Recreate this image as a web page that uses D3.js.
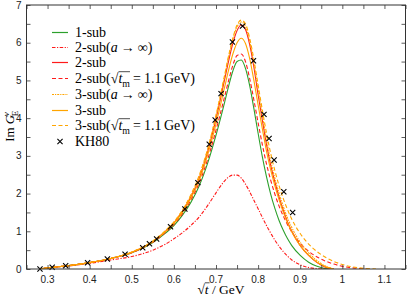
<!DOCTYPE html>
<html><head><meta charset="utf-8">
<script src="https://cdn.jsdelivr.net/npm/d3@7"></script>
<style>body{margin:0;background:#fff}svg{display:block}</style>
</head><body><svg id="c" width="407" height="301"></svg>
<script>
// ---- data ----
const tGrid = [0.28,0.30,0.35,0.40,0.45,0.50,0.55,0.58,0.60,0.62,0.64,0.66,0.68,0.70,0.72,0.73,0.74,0.75,0.76,0.77,0.78,0.79,0.80,0.81,0.82,0.83,0.84,0.85,0.86,0.87,0.88,0.90,0.92,0.94,0.96,0.98,1.00,1.02,1.04,1.06,1.08];
const sub1   = [0,0.03,0.09,0.17,0.28,0.43,0.70,0.95,1.15,1.42,1.76,2.20,2.80,3.55,4.40,4.85,5.25,5.50,5.54,5.32,4.86,4.25,3.60,2.98,2.44,1.98,1.60,1.28,1.02,0.80,0.62,0.36,0.18,0.07,0.01,0,null,null,null,null,null];
const sub2a  = [0,0.03,0.08,0.15,0.24,0.33,0.50,0.66,0.80,0.96,1.15,1.38,1.68,2.02,2.33,2.44,2.49,2.49,2.41,2.25,2.05,1.82,1.60,1.37,1.15,0.95,0.76,0.60,0.46,0.34,0.24,0.11,0.04,0.01,0,null,null,null,null,null,null];
const sub2   = [0,0.03,0.09,0.17,0.28,0.44,0.73,1.00,1.22,1.52,1.90,2.40,3.10,3.98,5.00,5.52,5.98,6.32,6.47,6.35,5.95,5.35,4.62,3.95,3.30,2.75,2.30,1.90,1.55,1.25,1.00,0.62,0.36,0.17,0.05,0,null,null,null,null,null];
const sub2tm = [0,0.03,0.09,0.17,0.28,0.43,0.71,0.97,1.18,1.46,1.82,2.28,2.90,3.68,4.55,5.00,5.40,5.66,5.70,5.50,5.05,4.48,3.88,3.30,2.78,2.35,1.98,1.66,1.40,1.17,0.98,0.68,0.47,0.32,0.21,0.13,0.07,0.035,0.015,0.004,null];
const sub3a  = [0,0.03,0.09,0.17,0.28,0.45,0.74,1.01,1.24,1.55,1.94,2.45,3.15,4.05,5.08,5.62,6.08,6.42,6.55,6.43,6.03,5.45,4.75,4.07,3.42,2.86,2.40,2.00,1.65,1.35,1.10,0.71,0.43,0.22,0.08,0,null,null,null,null,null];
const sub3   = [0,0.03,0.09,0.17,0.28,0.44,0.72,0.99,1.20,1.50,1.87,2.35,3.02,3.85,4.80,5.28,5.70,6.00,6.12,5.98,5.58,5.00,4.35,3.72,3.12,2.62,2.20,1.83,1.50,1.22,0.98,0.62,0.36,0.18,0.06,0,null,null,null,null,null];
const sub3tm = [0,0.03,0.09,0.17,0.28,0.45,0.74,1.02,1.25,1.56,1.96,2.48,3.18,4.08,5.12,5.66,6.12,6.47,6.60,6.50,6.12,5.55,4.88,4.22,3.60,3.06,2.60,2.20,1.86,1.57,1.32,0.94,0.66,0.46,0.31,0.20,0.12,0.065,0.03,0.01,0];
const khX = [0.282,0.311,0.343,0.395,0.442,0.484,0.526,0.542,0.559,0.592,0.626,0.657,0.684,0.698,0.712,0.739,0.763,0.789,0.814,0.826,0.838,0.861,0.882];
const khY = [0.00,0.045,0.088,0.167,0.265,0.39,0.565,0.67,0.795,1.12,1.59,2.29,3.31,3.95,4.65,6.02,6.44,5.52,4.10,3.46,2.89,2.05,1.50];
const xTicks = [0.3,0.4,0.5,0.6,0.7,0.8,0.9,1,1.1];
const yTicks = [0,1,2,3,4,5,6,7];

// ---- layout ----
const svg = d3.select("#c");
const L = 26.5, R = 405.5, T = 5, B = 269;
const x = d3.scaleLinear().domain([0.25,1.15]).range([L,R]);
const y = d3.scaleLinear().domain([0,7]).range([B,T]);
const GREEN = "#2ca02c", RED = "#ff1a1a", ORANGE = "#ffa500";
const serif = "'Liberation Serif','Times New Roman',serif";
const sans = "'Liberation Sans',Arial,sans-serif";

const series = [
  {name:"sub1", vals:sub1, color:GREEN, dash:null},
  {name:"sub2a", vals:sub2a, color:RED, dash:"3.5,1.5,1.2,1.5"},
  {name:"sub2", vals:sub2, color:RED, dash:null},
  {name:"sub2tm", vals:sub2tm, color:RED, dash:"4,2.5"},
  {name:"sub3a", vals:sub3a, color:ORANGE, dash:"2,1,1.2,1"},
  {name:"sub3", vals:sub3, color:ORANGE, dash:null},
  {name:"sub3tm", vals:sub3tm, color:ORANGE, dash:"4,2.5"}
];

svg.append("clipPath").attr("id","pc").append("rect")
  .attr("x",L).attr("y",T).attr("width",R-L).attr("height",B-T);

const line = d3.line().defined(d=>d[1]!==null).x(d=>x(d[0])).y(d=>y(d[1])).curve(d3.curveMonotoneX);
const plot = svg.append("g").attr("clip-path","url(#pc)");
series.forEach(s=>{
  plot.append("path").datum(tGrid.map((t,i)=>[t,s.vals[i]]))
    .attr("d",line).attr("fill","none").attr("stroke",s.color)
    .attr("stroke-width",1.1).attr("stroke-dasharray",s.dash);
});
// KH80 markers
const mk = 2.6;
svg.append("g").selectAll("path").data(khX.map((v,i)=>[v,khY[i]])).join("path")
  .attr("d",d=>{const cx=x(d[0]),cy=y(d[1]);return `M${cx-mk},${cy-mk}L${cx+mk},${cy+mk}M${cx-mk},${cy+mk}L${cx+mk},${cy-mk}`;})
  .attr("stroke","#000").attr("stroke-width",1.1).attr("fill","none");

// ---- axes ----
const AX = "#333";
const tl = 4;
const xt = d3.range(0.25,1.151,0.05);
const yt = d3.range(0,7.01,0.5);
const ax = svg.append("g");
ax.append("g").attr("transform",`translate(0,${B})`).call(d3.axisBottom(x).tickValues(xt).tickSizeInner(-tl).tickSizeOuter(0).tickFormat(""));
ax.append("g").attr("transform",`translate(0,${T})`).call(d3.axisTop(x).tickValues(xt).tickSizeInner(-tl).tickSizeOuter(0).tickFormat(""));
ax.append("g").attr("transform",`translate(${L},0)`).call(d3.axisLeft(y).tickValues(yt).tickSizeInner(-tl).tickSizeOuter(0).tickFormat(""));
ax.append("g").attr("transform",`translate(${R},0)`).call(d3.axisRight(y).tickValues(yt).tickSizeInner(-tl).tickSizeOuter(0).tickFormat(""));
ax.selectAll(".domain").remove();
ax.selectAll("line").attr("stroke",AX).attr("stroke-width",0.8);
svg.append("rect").attr("x",L).attr("y",T).attr("width",R-L).attr("height",B-T)
  .attr("fill","none").attr("stroke",AX).attr("stroke-width",1);

// tick labels
const tickLab = svg.append("g").attr("font-family",sans).attr("font-size",10).attr("fill","#222");
xTicks.forEach(d=>{
  tickLab.append("text").attr("x",x(d)).attr("y",B+13.5).attr("text-anchor","middle").text(String(d));
});
yTicks.forEach(d=>{
  tickLab.append("text").attr("x",L-5).attr("y",y(d)+3.6).attr("text-anchor","end").text(String(d));
});

// ---- rich text helper ----
function rich(g, x0, y0, segs, size){
  let cx = x0;
  const bars = [];
  segs.forEach(s=>{
    const fs = s.small ? size*0.7 : size;
    const dy = s.sub ? size*0.28 : (s.sup ? -size*0.42 : 0);
    const t = g.append("text").attr("x",cx+(s.dx||0)).attr("y",y0+dy)
      .attr("font-family",serif).attr("font-size",fs)
      .attr("font-style",s.it?"italic":"normal").attr("fill","#000")
      .style("white-space","pre").text(s.t);
    const w = t.node().getComputedTextLength();
    if(s.bar) bars.push([cx+(s.dx||0), cx+(s.dx||0)+w+(s.barExtra||0)]);
    cx += w + (s.dx||0) + (s.adv||0);
  });
  return {end:cx, bars};
}

// ---- legend ----
const legX1 = 52, legX2 = 68, legTX = 75;
const legRowsY = [32.5, 47.5, 62.5, 78.5, 94.5, 110.5, 125.5, 141.5];
const fsL = 14;
const legend = svg.append("g");
const sqrtSegs = [{t:"√"},{t:"t",it:true,bar:true},{t:"m",small:true,sub:true,bar:true,adv:3},{t:"=",adv:3},{t:"1.1",adv:2.5},{t:"GeV)"}];
const arrowSegs = [{t:"a",it:true,adv:3},{t:"→",adv:3},{t:"∞)"}];
const labels = [
  [{t:"1-sub"}],
  [{t:"2-sub("}].concat(arrowSegs),
  [{t:"2-sub"}],
  [{t:"2-sub("}].concat(sqrtSegs),
  [{t:"3-sub("}].concat(arrowSegs),
  [{t:"3-sub"}],
  [{t:"3-sub("}].concat(sqrtSegs),
  [{t:"KH80"}]
];
const legStyles = series.concat([{marker:true}]);
legStyles.forEach((s,i)=>{
  const yy = legRowsY[i];
  if(s.marker){
    const cx=(legX1+legX2)/2;
    legend.append("path").attr("d",`M${cx-mk},${yy-mk}L${cx+mk},${yy+mk}M${cx-mk},${yy+mk}L${cx+mk},${yy-mk}`)
      .attr("stroke","#000").attr("stroke-width",1.1);
  } else {
    legend.append("line").attr("x1",legX1).attr("x2",legX2).attr("y1",yy).attr("y2",yy)
      .attr("stroke",s.color).attr("stroke-width",1.2).attr("stroke-dasharray",s.dash);
  }
  const r = rich(legend, legTX, yy+4.5, labels[i], fsL);
  if(r.bars.length){
    const x1 = d3.min(r.bars,b=>b[0]), x2 = d3.max(r.bars,b=>b[1]);
    legend.append("line").attr("x1",x1).attr("x2",x2).attr("y1",yy-6.8).attr("y2",yy-6.8)
      .attr("stroke","#000").attr("stroke-width",0.7);
  }
});

// ---- axis titles ----
const xl = svg.append("g");
const xr = rich(xl, 0, 294, [{t:"√"},{t:"t",it:true,bar:true,barExtra:1},{t:" / GeV"}], 13.5);
xl.attr("transform",`translate(${(L+R)/2 - xr.end/2 + 5},0)`);
xl.append("line").attr("x1",xr.bars[0][0]).attr("x2",xr.bars[0][1]).attr("y1",282.8).attr("y2",282.8)
  .attr("stroke","#000").attr("stroke-width",0.7);

const yl = svg.append("g");
const yr = rich(yl, 0, 0, [{t:"Im "},{t:"G",it:true},{t:"E",small:true,sub:true,dx:-1.5,adv:-5.5},{t:"v",small:true,it:true,sup:true}], 13);
yl.attr("transform",`translate(14,${127 + yr.end/2}) rotate(-90)`);
</script></body></html>
